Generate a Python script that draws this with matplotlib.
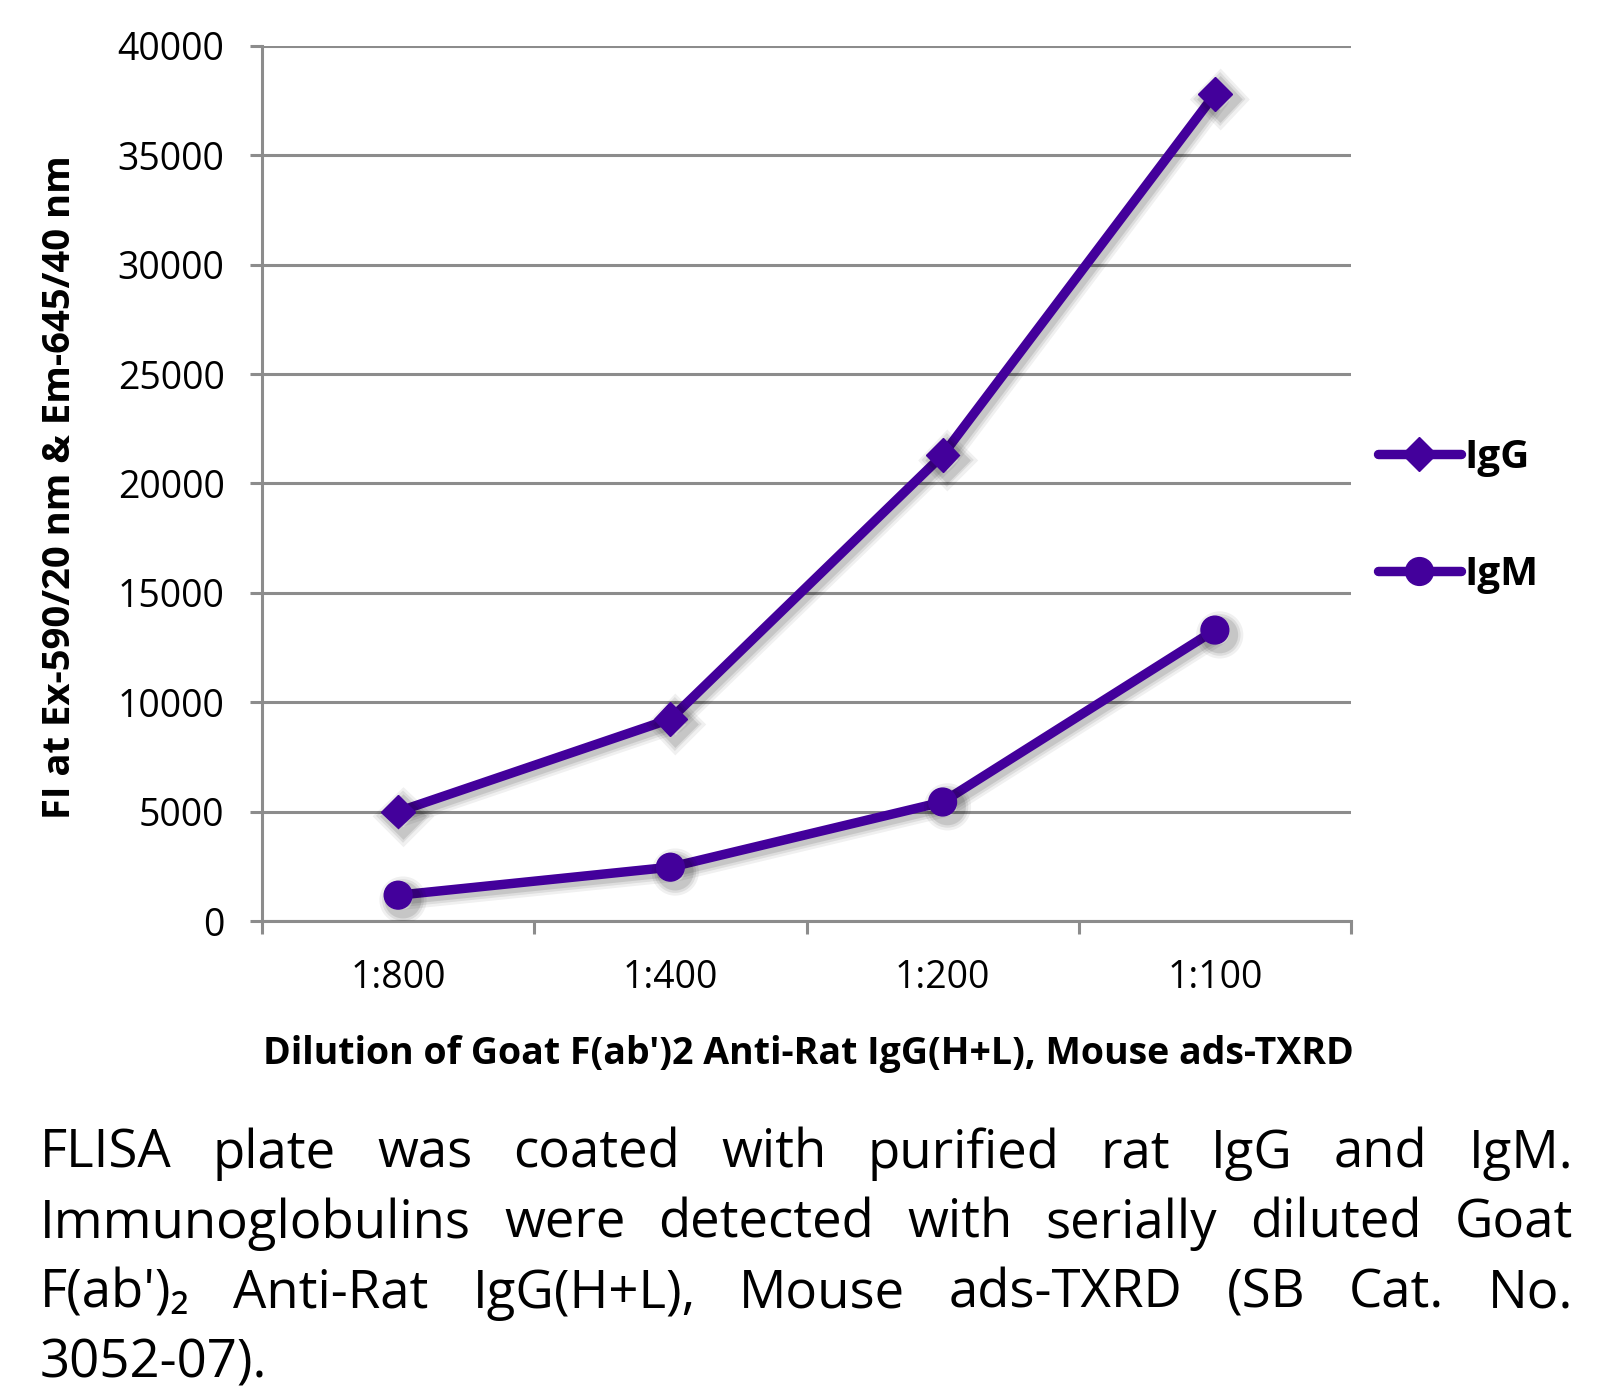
import matplotlib
matplotlib.use('Agg')
import matplotlib.pyplot as plt
from matplotlib.lines import Line2D
import matplotlib.patheffects as pe

plt.rcParams['font.family'] = ['Open Sans', 'Noto Sans', 'DejaVu Sans']

# 데이터
dilutions = ['1:800', '1:400', '1:200', '1:100']
igg = [5000, 9230, 21300, 37800]
igm = [1180, 2460, 5440, 13300]
yticks = [0, 5000, 10000, 15000, 20000, 25000, 30000, 35000, 40000]

caption_lines = [
    "FLISA plate was coated with purified rat IgG and IgM.",
    "Immunoglobulins were detected with serially diluted Goat",
    "F(ab')\u2082 Anti-Rat IgG(H+L), Mouse ads-TXRD (SB Cat. No.",
    "3052-07).",
]

purple = '#43009b'
grid_c = '#8c8c8c'
W, H = 1620, 1394

fig = plt.figure(figsize=(W / 100, H / 100), dpi=100)
ax = fig.add_axes([262 / W, 1 - 921 / H, (1351 - 262) / W, (921 - 46) / H])

x = list(range(1, len(dilutions) + 1))
# 흐릿한 그림자 흉내 (여러 겹)
shadow = [pe.SimpleLineShadow(offset=(3.5, -3.5), shadow_color='k', alpha=0.06, linewidth=14),
          pe.SimpleLineShadow(offset=(3.5, -3.5), shadow_color='k', alpha=0.08, linewidth=10),
          pe.SimpleLineShadow(offset=(3.5, -3.5), shadow_color='k', alpha=0.10, linewidth=6.5),
          pe.Normal()]
ax.plot(x, igg, color=purple, lw=6.8, marker='D', ms=17, solid_capstyle='round',
        path_effects=shadow, zorder=3)
ax.plot(x, igm, color=purple, lw=6.8, marker='o', ms=20, solid_capstyle='round',
        path_effects=shadow, zorder=3)

ax.set_xlim(0.5, len(dilutions) + 0.5)
ax.set_ylim(0, 40000)
ax.set_yticks(yticks)
ax.set_yticklabels([str(v) for v in yticks])
ax.yaxis.grid(True, color=grid_c, lw=2.2)
ax.set_axisbelow(True)

# x축: 범주 경계에 눈금, 라벨은 가운데
ax.set_xticks([i - 0.5 for i in x] + [len(dilutions) + 0.5])
ax.set_xticklabels([])
ax.set_xticks(x, minor=True)
ax.set_xticklabels(dilutions, minor=True)
ax.tick_params(axis='x', which='major', length=9, width=2.2, color=grid_c, direction='out')
ax.tick_params(axis='x', which='minor', length=0, pad=27, labelsize=27)
ax.tick_params(axis='y', length=9, width=2.2, color=grid_c, pad=18, labelsize=27)

for s in ['top', 'right']:
    ax.spines[s].set_visible(False)
for s in ['left', 'bottom']:
    ax.spines[s].set_color(grid_c)
    ax.spines[s].set_linewidth(2.2)

fig.text(60 / W, 1 - 487 / H, 'FI at Ex-590/20 nm & Em-645/40 nm', rotation=90,
         ha='center', va='center', fontsize=27.5, fontweight='bold')
fig.text(808 / W, 1 - 1054 / H, "Dilution of Goat F(ab')2 Anti-Rat IgG(H+L), Mouse ads-TXRD",
         ha='center', va='center', fontsize=27, fontweight='bold')

handles = [Line2D([], [], color=purple, lw=6.8, marker='D', ms=17, solid_capstyle='round'),
           Line2D([], [], color=purple, lw=6.8, marker='o', ms=20, solid_capstyle='round')]
leg = fig.legend(handles, ['IgG', 'IgM'], loc='center left', bbox_to_anchor=(1358 / W, 1 - 516 / H),
                 frameon=False, borderpad=0, handlelength=2.05, handletextpad=0.1,
                 labelspacing=1.95, prop={'size': 29, 'weight': 'bold'})

# 캡션: 양쪽 정렬
renderer = fig.canvas.get_renderer()
x0, x1 = 40, 1573
baselines = [1168, 1238, 1308, 1378]
for i, line in enumerate(caption_lines):
    words = line.split()
    ts = [fig.text(0, 1 - baselines[i] / H, w, fontsize=38, ha='left', va='baseline') for w in words]
    ws = [t.get_window_extent(renderer).width for t in ts]
    if i < len(caption_lines) - 1 and len(words) > 1:
        gap = (x1 - x0 - sum(ws)) / (len(words) - 1)
    else:
        gap = 12
    xp = x0
    for t, w in zip(ts, ws):
        t.set_x(xp / W)
        xp += w + gap

fig.savefig('out.png', dpi=100)
